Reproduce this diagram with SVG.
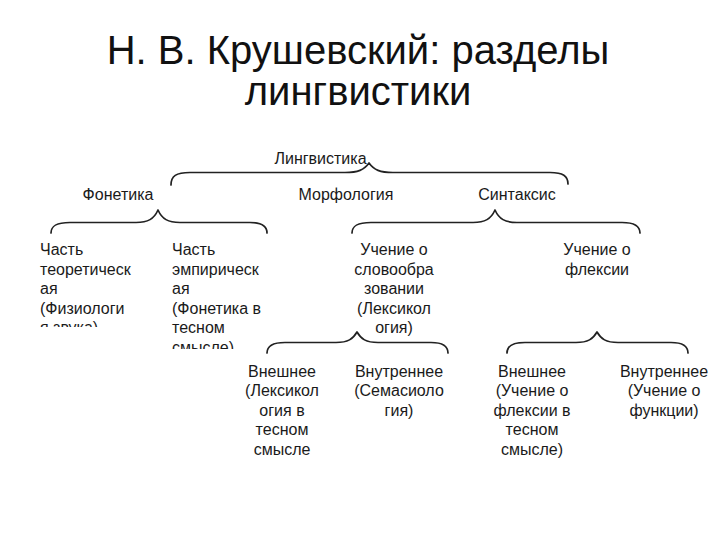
<svg xmlns="http://www.w3.org/2000/svg" width="720" height="540" viewBox="0 0 720 540">
  <style>
    .title { font-family: "Liberation Sans", Arial, sans-serif; font-size: 40px; fill: #111; text-anchor: middle; }
    .t { font-family: "Liberation Sans", Arial, sans-serif; font-size: 16px; fill: #1a1a1a; }
    .c { text-anchor: middle; }
    .brace { fill: none; stroke: #222; stroke-width: 1.7; stroke-linecap: round; stroke-linejoin: round; }
  </style>
  <defs>
    <clipPath id="clip1"><rect x="30" y="235" width="130" height="92"/></clipPath>
    <clipPath id="clip2"><rect x="165" y="235" width="110" height="114"/></clipPath>
  </defs>
  <rect width="720" height="540" fill="#ffffff"/>

  <g id="title">
    <text class="title" x="358" y="64">Н. В. Крушевский: разделы</text>
    <text class="title" x="358" y="105">лингвистики</text>
  </g>

  <g id="connectors">
    <path class="brace" d="M171,185 C171,176 176,172.5 190,172.5 L345,172.5 C358,172.5 364,170 369,163 C374,170 380,172.5 393,172.5 L550,172.5 C563,172.5 568,176 568,184"/>
    <path class="brace" d="M51,233 C51,226 56,222.5 70,222.5 L136,222.5 C148,222.5 154,219 158,210 C162,219 168,222.5 180,222.5 L250,222.5 C262,222.5 267,226 267,233"/>
    <path class="brace" d="M352,233 C352,226 357,222.5 371,222.5 L473,222.5 C485,222.5 491,219 495,210 C499,219 505,222.5 517,222.5 L622,222.5 C634,222.5 640,226 640,233"/>
    <path class="brace" d="M267,353 C267,346 272,342.5 285,342.5 L336,342.5 C348,342.5 353,339 357,332 C361,339 366,342.5 378,342.5 L431,342.5 C443,342.5 448,346 448,353"/>
    <path class="brace" d="M507,353 C507,346 512,342.5 525,342.5 L576,342.5 C588,342.5 593,339 597,332 C601,339 606,342.5 618,342.5 L671,342.5 C683,342.5 688,346 688,353"/>
  </g>

  <g id="lingvistika">
    <text class="t c" x="320.5" y="164">Лингвистика</text>
  </g>
  <g id="fonetika">
    <text class="t c" x="118" y="200">Фонетика</text>
  </g>
  <g id="morfologiya">
    <text class="t c" x="346" y="200">Морфология</text>
  </g>
  <g id="sintaksis">
    <text class="t c" x="517" y="200">Синтаксис</text>
  </g>

  <g id="teor" clip-path="url(#clip1)">
    <text class="t" x="40" y="255">Часть</text>
    <text class="t" x="40" y="274.5">теоретическ</text>
    <text class="t" x="40" y="294">ая</text>
    <text class="t" x="40" y="313.5">(Физиологи</text>
    <text class="t" x="40" y="333">я звука)</text>
  </g>
  <g id="emp" clip-path="url(#clip2)">
    <text class="t" x="172" y="255">Часть</text>
    <text class="t" x="172" y="274.5">эмпирическ</text>
    <text class="t" x="172" y="294">ая</text>
    <text class="t" x="172" y="313.5">(Фонетика в</text>
    <text class="t" x="172" y="333">тесном</text>
    <text class="t" x="172" y="352.5">смысле)</text>
  </g>

  <g id="slovoobr">
    <text class="t c" x="394" y="255">Учение о</text>
    <text class="t c" x="394" y="274.5">словообра</text>
    <text class="t c" x="394" y="294">зовании</text>
    <text class="t c" x="394" y="313.5">(Лексикол</text>
    <text class="t c" x="394" y="333">огия)</text>
  </g>
  <g id="fleksii">
    <text class="t c" x="597" y="255">Учение о</text>
    <text class="t c" x="597" y="274.5">флексии</text>
  </g>

  <g id="vneshnee1">
    <text class="t c" x="282" y="376.5">Внешнее</text>
    <text class="t c" x="282" y="396">(Лексикол</text>
    <text class="t c" x="282" y="415.5">огия в</text>
    <text class="t c" x="282" y="435">тесном</text>
    <text class="t c" x="282" y="454.5">смысле</text>
  </g>
  <g id="vnutrennee1">
    <text class="t c" x="399" y="376.5">Внутреннее</text>
    <text class="t c" x="399" y="396">(Семасиоло</text>
    <text class="t c" x="399" y="415.5">гия)</text>
  </g>
  <g id="vneshnee2">
    <text class="t c" x="532" y="376.5">Внешнее</text>
    <text class="t c" x="532" y="396">(Учение о</text>
    <text class="t c" x="532" y="415.5">флексии в</text>
    <text class="t c" x="532" y="435">тесном</text>
    <text class="t c" x="532" y="454.5">смысле)</text>
  </g>
  <g id="vnutrennee2">
    <text class="t c" x="664" y="376.5">Внутреннее</text>
    <text class="t c" x="664" y="396">(Учение о</text>
    <text class="t c" x="664" y="415.5">функции)</text>
  </g>
</svg>
